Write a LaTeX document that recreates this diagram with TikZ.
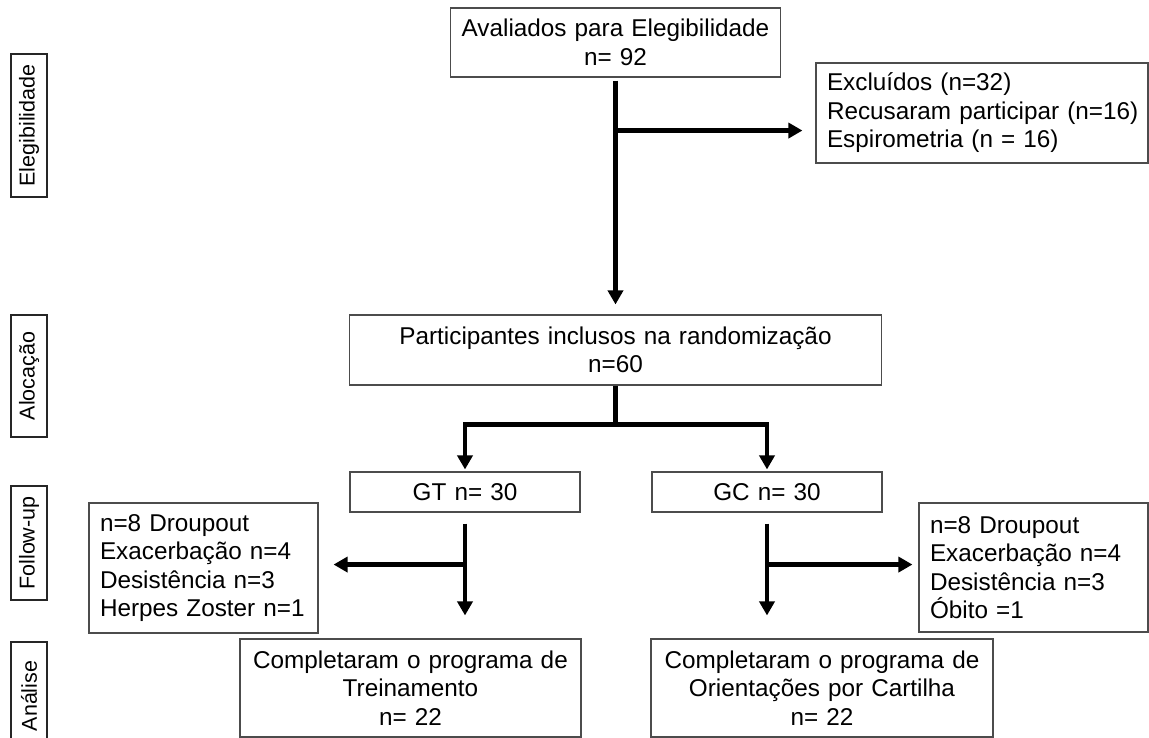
\documentclass[tikz,border=0pt]{standalone}
\usepackage{fontspec}
\setmainfont{Liberation Sans}
\usetikzlibrary{arrows.meta}
\begin{document}
\begin{tikzpicture}[x=1pt,y=-1pt,
  box/.style={draw=black!70, line width=1.1pt, inner sep=0pt, font=\fontsize{24.3}{28.5}\selectfont},
  cbox/.style={box, align=center},
  lbox/.style={box, inner xsep=11pt, align=left},
  lbl/.style={draw=black!85, line width=1.3pt, inner sep=0pt, rotate=90, minimum height=36pt, font=\fontsize{21.5}{24}\selectfont},
  arr/.style={line width=4.5pt, -{Triangle[length=14pt,width=15pt]}},
  ln/.style={line width=4.5pt}]
\useasboundingbox (0,0) rectangle (1149,738);
\clip (0,0) rectangle (1149,738);

% side labels
\node[lbl, minimum width=143pt] (l1) at (29,125.5) {Elegibilidade};
\node[lbl, minimum width=122pt] (l2) at (29,376) {Alocação};
\node[lbl, minimum width=114pt] (l3) at (29,543) {Follow-up};
\node[lbl, minimum width=108pt] (l4) at (29,696) {Análise};

% boxes
\node[cbox, minimum width=330pt, minimum height=69pt, text width=330pt] (top) at (615.5,42.5) {Avaliados para Elegibilidade\\n= 92};
\node[lbox, minimum width=332pt, minimum height=100pt, text width=310pt] (excl) at (982,113) {Excluídos (n=32)\\\mbox{Recusaram participar (n=16)}\\Espirometria (n = 16)};
\node[cbox, minimum width=532pt, minimum height=70pt, text width=532pt] (rand) at (615.5,350) {Participantes inclusos na randomização\\n=60};
\node[cbox, minimum width=230pt, minimum height=40pt, text width=230pt] (gt) at (465,492) {GT n= 30};
\node[cbox, minimum width=230pt, minimum height=40pt, text width=230pt] (gc) at (767,492) {GC n= 30};
\node[lbox, minimum width=229pt, minimum height=130pt, text width=207pt] (dl) at (203.5,568) {n=8 Droupout\\Exacerbação n=4\\Desistência n=3\\Herpes Zoster n=1};
\node[lbox, minimum width=229pt, minimum height=129pt, text width=207pt] (dr) at (1033.5,567.5) {n=8 Droupout\\Exacerbação n=4\\Desistência n=3\\Óbito =1};
\node[cbox, minimum width=341pt, minimum height=98pt, text width=341pt] (cl) at (410.5,688) {Completaram o programa de\\Treinamento\\n= 22};
\node[cbox, minimum width=342pt, minimum height=98pt, text width=342pt] (cr) at (822,688) {Completaram o programa de\\Orientações por Cartilha\\n= 22};

% connectors
\draw[arr, shorten <=3pt, shorten >=10pt] (top.south) -- (rand.north);
\path (top.south) ++(0,53) coordinate (b1);
\draw[arr, shorten >=13pt] (b1) -- (b1 -| excl.west);

\path (rand.south) ++(0,39) coordinate (b2);
\draw[ln] (rand.south) -- (b2);
\draw[arr, shorten >=2pt] (b2) -| (gt.north);
\draw[arr, shorten >=2pt] (b2) -| (gc.north);

\draw[arr, shorten <=11pt, shorten >=23pt] (gt.south) -- (gt.south |- cl.north);
\path (gt.south) ++(0,52) coordinate (b3);
\draw[arr, shorten >=15pt] (b3) -- (b3 -| dl.east);

\draw[arr, shorten <=11pt, shorten >=23pt] (gc.south) -- (gc.south |- cr.north);
\path (gc.south) ++(0,52) coordinate (b4);
\draw[arr, shorten >=6pt] (b4) -- (b4 -| dr.west);
\end{tikzpicture}
\end{document}
